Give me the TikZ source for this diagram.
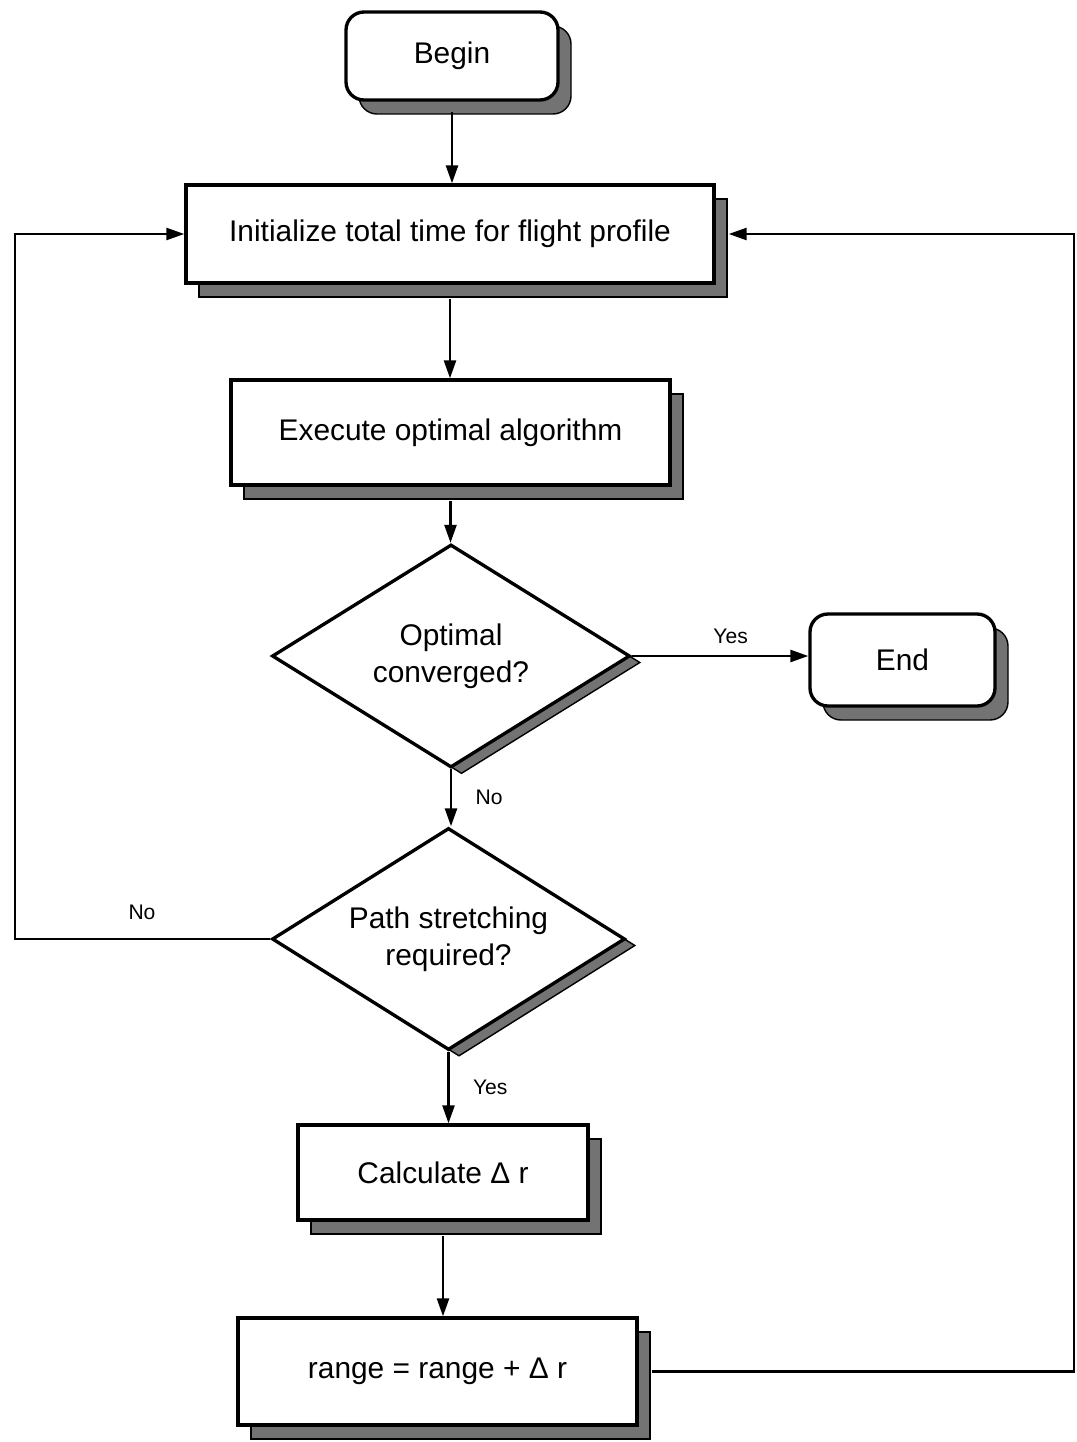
\documentclass[tikz,border=0pt]{standalone}
\usepackage{fontspec}
\setmainfont{Liberation Sans}
\usetikzlibrary{positioning, calc, arrows.meta, shapes.geometric, shadows}

\begin{document}
\begin{tikzpicture}[
  font=\fontsize{17}{21}\selectfont,
  shade box/.style   = {drop shadow={shadow xshift=0.26cm, shadow yshift=-0.28cm,
                        fill=black!55, draw=black, line width=0.8pt, opacity=1}},
  terminal/.style    = {draw, line width=1.9pt, fill=white, rounded corners=0.36cm,
                        align=center, shade box},
  process/.style     = {draw, line width=1.9pt, fill=white, align=center, shade box},
  decision/.style    = {diamond, draw, line width=1.9pt, fill=white, align=center,
                        inner sep=0pt, aspect=1.6,
                        drop shadow={shadow xshift=0.21cm, shadow yshift=-0.13cm,
                        fill=black!55, draw=black, line width=0.8pt, opacity=1}},
  branch/.style      = {font=\fontsize{12}{14}\selectfont},
  arr/.style         = {-{Triangle[length=0.36cm,width=0.24cm]}, line width=1.4pt},
]

% fixes the frame to the page size
\useasboundingbox (0,0) rectangle (21.52,-28.84);

% =============================================================
% Boxes of the main column
% =============================================================
\node[terminal, minimum width=4.24cm, minimum height=1.76cm] (begin)
  at (9.04, -1.12) {Begin};
\node[process, minimum width=10.56cm, minimum height=1.96cm] (init)
  at (9.00, -4.68) {Initialize total time for flight profile};
\node[process, minimum width=8.78cm, minimum height=2.10cm] (exec)
  at (9.01, -8.65) {Execute optimal algorithm};

% --- decisions ---
\node[decision, minimum width=7.16cm, minimum height=4.46cm] (conv)
  at (9.02, -13.12) {Optimal\\converged?};
\node[terminal, minimum width=3.70cm, minimum height=1.84cm] (end)
  at (18.05, -13.20) {End};
\node[decision, minimum width=7.06cm, minimum height=4.44cm] (stretch)
  at (8.97, -18.78) {Path stretching\\required?};

% --- stretching steps ---
\node[process, minimum width=5.80cm, minimum height=1.90cm] (calc)
  at (8.86, -23.45) {Calculate Δ r};
\node[process, minimum width=7.98cm, minimum height=2.14cm] (range)
  at (8.75, -27.43) {range = range + Δ r};

% loop corners
\coordinate (loopL) at (0.30, 0);
\coordinate (loopR) at (21.48, 0);

% =============================================================
% Connectors
% =============================================================
\draw[arr, shorten <=0.2cm] (begin.south) -- (begin.south |- init.north);
\draw[arr, shorten <=0.28cm] (init.south) -- (init.south |- exec.north);
\draw[arr, shorten <=0.28cm] (exec.south) -- (exec.south |- conv.north);

\draw[arr] (conv.east) -- (conv.east -| end.west)
  node[branch, pos=0.56, above=3pt] {Yes};
\draw[arr] (conv.south) -- (conv.south |- stretch.north)
  node[branch, pos=0.5, right=0.35cm] {No};

\draw[arr] (stretch.west) -- (stretch.west -| loopL) |- (init.west);
\node[branch] (nolabel) at (2.84, -18.24) {No};

\draw[arr] (stretch.south) -- (stretch.south |- calc.north)
  node[branch, pos=0.5, right=0.35cm] {Yes};
\draw[arr, shorten <=0.28cm] (calc.south) -- (calc.south |- range.north);

% loop back from the range update
\draw[arr, shorten <=0.26cm, shorten >=0.26cm]
  (range.east) -- (range.east -| loopR) |- (init.east);

\end{tikzpicture}
\end{document}
